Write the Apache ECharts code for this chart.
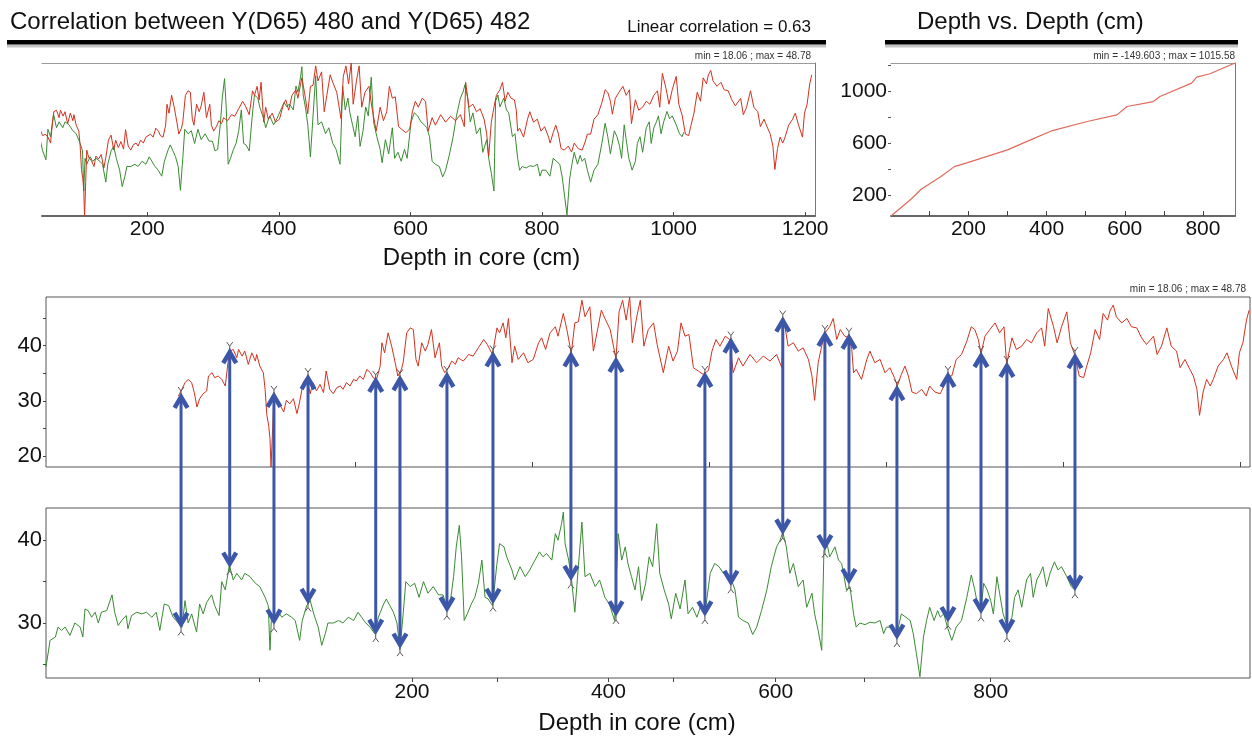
<!DOCTYPE html>
<html>
<head>
<meta charset="utf-8">
<script src="https://cdn.jsdelivr.net/npm/echarts@6/dist/echarts.min.js"></script>
<style>
  html, body { margin: 0; padding: 0; background: #fff; }
  #chart { width: 1252px; height: 736px; }
</style>
</head>
<body>
<div id="chart"></div>
<script>
// Y(D65) 480 (reference core), depth in the common depth frame (cm) and value
const redSeries = [
  [0,30.9],[4,32.1],[7.5,33.3],[11,33.9],[15,33.3],[18,31.5],[21,28.9],[24,30.4],[28,31.3],[32,31.8],
  [34,34.5],[38,35.1],[41,34.2],[45,34.5],[49,33.9],[53,32.7],[56,36.9],[58,39.0],[62,39.3],[66,37.8],
  [68,39.3],[72,38.1],[75,39.0],[79,36.6],[83,38.7],[87,37.2],[88.5,38.4],[92,36.3],[96,35.1],[98,32.1],
  [100,27.4],[102,25.6],[103.5,23.2],[104.7,18.06],[106.5,25.0],[108,31.3],[111,29.8],[115,29.2],[119,28.0],[122,30.1],
  [126,29.5],[130,30.4],[134,27.7],[137,29.8],[141,33.3],[145,34.3],[149,31.3],[152,33.3],[156,31.8],[160,33.0],
  [164,31.5],[167,35.4],[171,32.1],[175,31.3],[179,32.4],[183,32.7],[186,32.1],[190,33.3],[194,32.7],[198,33.9],
  [201,33.6],[205,34.5],[209,33.9],[213,35.7],[217,35.1],[220,34.2],[224,33.9],[228,36.3],[230,40.5],[233,38.7],
  [237,42.3],[241,39.9],[245,36.9],[248,34.5],[252,35.7],[254,36.9],[258,42.3],[262,43.2],[265.5,42.9],[268.5,37.5],
  [271,36.3],[275,40.5],[279,39.0],[282,40.2],[286,42.9],[290,37.8],[295,40.5],[297.5,36.3],[301,35.1],[305,36.0],
  [309,37.2],[313,36.6],[316,37.8],[322,37.2],[328,38.4],[333,38.1],[339,39.6],[345,41.1],[349,40.2],[355,38.4],
  [360,43.2],[363,42.3],[367,44.1],[370,41.4],[373,44.9],[377,36.9],[380,39.9],[384,37.5],[390,38.7],[395,36.9],
  [401,37.5],[407,40.5],[410.5,41.4],[415,39.3],[420,42.3],[426,43.4],[429,41.7],[435,45.8],[439,42.9],[444,38.6],
  [448,44.1],[452,44.3],[456,48.2],[459.5,45.2],[465,47.0],[469,39.0],[473,42.3],[478,46.4],[482,44.9],[488,42.9],
  [494.5,37.6],[498,46.1],[502,48.2],[506,44.6],[510,48.78],[513,40.5],[518,45.2],[522,48.2],[526,39.9],[531,42.9],
  [537,44.1],[541,40.2],[548,35.1],[554,39.9],[559,37.2],[564,39.0],[568,44.1],[572.5,41.7],[577,42.0],[582,36.0],
  [587.5,35.4],[593,34.8],[599,35.5],[603,39.0],[607.5,41.1],[612,39.9],[618,41.7],[623,41.1],[627,35.1],[633,37.8],
  [638,36.3],[646,38.4],[653.5,36.9],[661,38.1],[668.5,37.2],[676,38.4],[682,36.0],[684,44.9],[689,39.9],[695,40.5],
  [700.5,39.0],[706,39.6],[712,37.5],[716,34.5],[719,30.1],[723,36.9],[727,39.9],[730.7,42.3],[736,43.4],[740,44.9],
  [744,41.1],[748,42.9],[753,41.7],[758,41.4],[761,39.3],[763,35.1],[766,35.7],[772,33.9],[778,37.5],[781.5,39.0],
  [787,36.9],[793,37.5],[798.5,35.1],[804,36.0],[810,33.9],[812.4,32.7],[817,34.8],[821,36.3],[825,34.5],[829,31.6],
  [834,31.3],[840,32.1],[845,30.9],[849,32.7],[855,31.6],[861,31.3],[865,32.7],[869,34.5],[874,34.5],[879,37.5],
  [885,38.4],[891,40.8],[896,43.4],[900,42.9],[904,41.1],[907,38.5],[911.5,41.7],[917,42.9],[923,44.1],[928,42.3],
  [933,43.4],[936,36.6],[942,41.4],[947,39.3],[953,39.9],[958.5,41.1],[964,40.5],[970,42.3],[975.5,43.2],[979,39.9],
  [983,46.7],[989,43.4],[993,40.5],[998,43.4],[1004,46.1],[1008,40.5],[1013,38.3],[1018,34.5],[1023,34.2],[1026,36.0],
  [1031,38.7],[1036,42.9],[1041,41.1],[1045,45.8],[1050,44.6],[1053,46.4],[1056.5,47.3],[1060,45.2],[1066,44.1],[1072,44.9],
  [1077,43.4],[1083,43.2],[1088.5,41.4],[1094,40.2],[1102,41.7],[1106,38.4],[1111,39.9],[1117,43.2],[1122,39.9],[1128,39.0],
  [1132,36.0],[1137.5,37.5],[1143,35.7],[1147,34.5],[1151,32.1],[1154,27.4],[1158,31.6],[1162,33.9],[1166,32.7],[1169.5,33.9],
  [1175,36.3],[1181,37.5],[1185,38.7],[1190,36.3],[1196,33.9],[1199,38.7],[1203,40.5],[1207,44.6],[1210,46.4]
];

// Y(D65) 482 (correlated core), placed in the same depth frame
const greenSeries = [
  [-149.603,24.7],[-147,26.5],[-145,27.9],[-139,28.3],[-136,29.5],[-132,29.1],[-128,29.5],[-122.5,28.5],[-117,30.0],[-111,29.5],
  [-108,28.3],[-105.5,31.7],[-102,31.5],[-98,30.7],[-94,31.3],[-90.5,30.0],[-87,31.3],[-81,31.5],[-75,33.4],[-72,31.3],
  [-68,29.7],[-64,30.3],[-59,30.9],[-57,29.3],[-53,30.9],[-47,31.3],[-41.5,31.1],[-36,31.3],[-30,30.7],[-25,31.3],
  [-21,29.1],[-16,32.3],[-11,32.1],[-6,30.7],[0,30.0],[4,29.5],[7.5,32.7],[11,30.0],[15,31.1],[20.6,28.9],
  [24,32.3],[28,31.1],[32,32.5],[37.6,33.4],[41,32.1],[46,30.9],[49,35.0],[53,34.0],[57.6,37.0],[62,35.2],
  [66,36.0],[71.5,35.2],[75,36.0],[81,35.6],[87,34.8],[92,34.4],[98,33.1],[101.6,32.1],[103.5,26.7],[105.4,31.1],
  [108,30.3],[113,31.3],[117,30.7],[122,31.1],[128,30.7],[132,30.3],[137,27.9],[140,30.3],[145,32.1],[149,32.7],
  [153,31.1],[158,29.5],[162,27.3],[166,28.7],[169,30.0],[175,30.0],[181,30.3],[186,30.0],[192,30.7],[198,30.3],
  [203,31.3],[207,30.7],[211,30.1],[216.5,29.5],[222,28.7],[226,30.7],[232,32.3],[235,32.9],[239,32.1],[243,31.3],
  [247,30.0],[250.4,26.8],[254,31.1],[257,35.0],[262,34.4],[267,34.8],[272,33.1],[277,35.0],[282,33.6],[288,34.4],
  [294,33.4],[299,33.4],[303,32.1],[307,32.3],[311,35.6],[314,39.2],[317.5,41.8],[320,38.0],[323,30.3],[326.5,31.1],
  [331,32.3],[335,33.1],[339,34.8],[343,37.6],[346.5,33.1],[350,32.9],[355,32.1],[360,37.2],[363,39.6],[368,39.2],
  [371,38.0],[377,36.4],[380,35.2],[386,36.8],[392,35.6],[397,36.4],[403,37.6],[408,38.6],[412,38.0],[416,38.4],
  [422,37.6],[426,40.8],[429,40.0],[433,42.0],[435,43.4],[437,39.6],[441,37.6],[444,35.6],[448,31.3],[452,36.8],
  [456,42.2],[459.5,35.6],[465,36.0],[471,34.4],[476,35.2],[482,33.1],[487,32.3],[493,30.3],[497,40.8],[501,37.6],
  [505,39.2],[508,37.2],[512,35.6],[516,34.0],[520,36.8],[523.5,32.7],[528,34.8],[532,38.0],[536,36.8],[540.5,42.0],
  [544,36.0],[549,34.0],[554,32.3],[557,30.5],[562,33.6],[567,31.7],[572.5,35.2],[576,31.1],[581,31.9],[586,30.7],
  [591,32.3],[595,31.1],[601,36.0],[606,37.2],[611,36.8],[616,36.0],[621,35.6],[625,35.2],[629,34.0],[633,30.7],
  [638,30.3],[644,30.0],[649,28.6],[653.5,29.5],[659,31.5],[665,34.0],[670,36.8],[676,39.2],[680,40.0],[683,41.0],
  [687,39.2],[691,36.0],[695,37.2],[700.5,34.4],[706,35.2],[710,31.9],[716,33.6],[719,31.1],[723,29.1],[727,26.7],
  [729.5,38.8],[733,39.6],[736,38.0],[742,39.2],[746,37.6],[749.5,37.2],[755,34.0],[759,34.4],[763,31.1],[766,29.5],
  [770,30.0],[776,29.8],[781.5,30.1],[787,30.0],[793,30.3],[797,28.7],[800,29.5],[806,29.5],[812,28.7],[817,31.1],
  [822,30.7],[827,30.3],[830.5,28.7],[834,26.3],[838,23.5],[842,28.3],[845.5,30.3],[849,31.9],[854,30.3],[858,31.5],
  [861,30.7],[865,31.1],[869,29.5],[874,27.9],[879,29.5],[885,30.3],[891,33.1],[896,35.8],[900,34.0],[904,31.7],
  [907,31.5],[910,34.8],[914,34.0],[918,32.7],[921,31.1],[925,35.6],[928,33.6],[932,31.1],[937,29.5],[942,30.7],
  [945,33.1],[949,34.0],[953,31.9],[958.5,35.2],[963,36.0],[966,33.1],[970,35.2],[974,36.0],[977,36.8],[981,34.4],
  [985,36.0],[990,37.4],[994,36.4],[998,36.8],[1004,35.6],[1009,34.4],[1013,34.0],[1015.58,34.6]
];

// Tie points: depth in frame, value on 480, value on 482
const tieDepth = [3, 58, 108, 146.5, 223, 250.4, 303.5, 355.5, 443.6, 494.5, 595, 624.4, 683, 730.6, 757.8, 812, 869.7, 907, 936.3, 1013.2];
const tieRed   = [30.9, 39.0, 31.1, 34.3, 33.8, 34.1, 34.7, 38.4, 38.4, 37.4, 34.7, 40.9, 44.7, 42.1, 41.6, 32.3, 34.7, 38.3, 36.5, 38.1];
const tieGreen = [29.7, 37.0, 30.1, 32.6, 28.9, 27.2, 31.6, 32.6, 35.4, 31.1, 31.1, 34.8, 41.0, 39.1, 35.0, 28.3, 30.4, 31.4, 28.9, 34.2];

// Depth vs. depth (482 depth, frame depth)
const depthMap = [
  [2,44],[53,172],[79,249],[130,346],[164,422],[198,453],[300,550],[359,627],[415,698],[504,767],
  [580,818],[606,882],[673,920],[690,959],[771,1061],[784,1107],[818,1133],[882,1215]
];

// Value ranges and statistics
const redMin = 18.06, redMax = 48.78;
const greenMin = 23.35, greenMax = 43.9;
const frameMin = -149.603, frameMax = 1015.58;
const correlation = 0.63;

// Tick values and labels
const topTicks = [200, 400, 600, 800, 1000, 1200];
const frameTicks = [200, 400, 600, 800, 1000, 1200];
const mapXTicks = [100, 200, 300, 400, 500, 600, 700, 800];
const mapXLabels = [200, 400, 600, 800];
const mapYTicks = [200, 400, 600, 800, 1000, 1200];
const mapYLabels = [200, 600, 1000];
const redYTicks = [20, 25, 30, 35, 40, 45];
const redYLabels = [20, 30, 40];
const greenYTicks = [25, 30, 35, 40];
const greenYLabels = [30, 40];
// 482 depth labels and their positions in the frame
const coreTickPos = [264, 486, 675, 918];
const coreTickText = ['200', '400', '600', '800'];
const coreMinorPos = [91, 360, 559, 775];

const FONT = '"Liberation Sans", Arial, Helvetica, sans-serif';
const RED = '#d2321f';
const GREEN = '#3a8a32';
const BLUE = '#3c56a8';

const chart = echarts.init(document.getElementById('chart'), null, { renderer: 'canvas' });

const labelStyle = (size) => ({ fontSize: size, color: '#111', fontFamily: FONT });
const noSplit = { show: false };

function tieArrows(params, api) {
  const x = api.value(0);
  const p1 = api.coord([x, api.value(1)]);
  let p2 = null;
  try { p2 = chart.convertToPixel({ gridIndex: 3 }, [x, api.value(2)]); } catch (e) { p2 = null; }
  if (!p1 || !p2) return null;
  const cx = p1[0];
  const yTop = p1[1] + 1;
  const yBot = p2[1] - 1.5;
  const head = 6.5, headH = 11;
  const stroke = { stroke: BLUE, fill: null, lineWidth: 3 };
  const headStroke = { stroke: BLUE, fill: null, lineWidth: 4.5, lineJoin: 'miter' };
  const mark = { stroke: '#555', fill: null, lineWidth: 1 };
  const ry = p1[1], gy = p2[1];
  return {
    type: 'group',
    children: [
      { type: 'line', shape: { x1: cx, y1: yTop + 2, x2: cx, y2: yBot - 2 }, style: stroke },
      { type: 'polyline', shape: { points: [[cx - head, yTop + headH], [cx, yTop], [cx + head, yTop + headH]] }, style: headStroke },
      { type: 'polyline', shape: { points: [[cx - head, yBot - headH], [cx, yBot], [cx + head, yBot - headH]] }, style: headStroke },
      { type: 'polyline', shape: { points: [[cx, ry - 1], [cx, ry - 5]] }, style: mark },
      { type: 'polyline', shape: { points: [[cx - 3, ry - 9], [cx, ry - 5], [cx + 3, ry - 9]] }, style: mark },
      { type: 'polyline', shape: { points: [[cx, gy + 2], [cx, gy + 6]] }, style: mark },
      { type: 'polyline', shape: { points: [[cx - 3, gy + 10], [cx, gy + 6], [cx + 3, gy + 10]] }, style: mark }
    ]
  };
}

const fmt = (v) => String(v);
const statText = (a, b) => 'min = ' + a + ' ; max = ' + b;

const option = {
  animation: false,
  backgroundColor: '#fff',
  grid: [
    { left: 42, top: 63, width: 773, height: 153, containLabel: false, outerBoundsMode: 'none' },
    { left: 891, top: 63, width: 344, height: 153, containLabel: false, outerBoundsMode: 'none' },
    { left: 46, top: 297, width: 1204, height: 170, containLabel: false, outerBoundsMode: 'none',
      show: true, borderColor: '#555', borderWidth: 1, backgroundColor: 'transparent' },
    { left: 46, top: 508, width: 1204, height: 170, containLabel: false, outerBoundsMode: 'none',
      show: true, borderColor: '#555', borderWidth: 1, backgroundColor: 'transparent' }
  ],
  xAxis: [
    { // 0: correlation panel, bottom
      gridIndex: 0, type: 'value', min: 40, max: 1215, position: 'bottom',
      axisLine: { show: true, onZero: false, lineStyle: { color: '#666', width: 2 } },
      axisTick: { show: true, inside: true, length: 4, customValues: topTicks, lineStyle: { color: '#444' } },
      axisLabel: Object.assign({ customValues: topTicks, margin: 3, formatter: fmt }, labelStyle(21)),
      splitLine: noSplit,
      name: 'Depth in core (cm)', nameLocation: 'middle', nameGap: 30,
      nameTextStyle: Object.assign({ padding: [0, 0, 0, 106] }, labelStyle(24))
    },
    { // 1: correlation panel, top border
      gridIndex: 0, type: 'value', min: 40, max: 1215, position: 'top',
      axisLine: { show: true, onZero: false, lineStyle: { color: '#9a9a9a', width: 1 } },
      axisTick: { show: false }, axisLabel: { show: false }, splitLine: noSplit
    },
    { // 2: depth vs depth, bottom
      gridIndex: 1, type: 'value', min: 2, max: 882, position: 'bottom',
      axisLine: { show: true, onZero: false, lineStyle: { color: '#666', width: 2 } },
      axisTick: { show: true, inside: true, length: 5, customValues: mapXTicks, lineStyle: { color: '#444' } },
      axisLabel: Object.assign({ customValues: mapXLabels, margin: 3, formatter: fmt }, labelStyle(21)),
      splitLine: noSplit
    },
    { // 3: 480 panel
      gridIndex: 2, type: 'value', min: frameMin, max: 1211,
      axisLine: { show: false, onZero: false },
      axisTick: { show: true, inside: true, length: 5, customValues: frameTicks, lineStyle: { color: '#444' } },
      axisLabel: { show: false }, splitLine: noSplit
    },
    { // 4: 482 panel
      gridIndex: 3, type: 'value', min: frameMin, max: 1211,
      axisLine: { show: false, onZero: false },
      axisTick: { show: true, inside: false, length: 4, customValues: coreTickPos.concat(coreMinorPos), lineStyle: { color: '#444' } },
      axisLabel: Object.assign({
        customValues: coreTickPos, margin: 4,
        formatter: (v) => { const i = coreTickPos.indexOf(v); return i >= 0 ? coreTickText[i] : ''; }
      }, labelStyle(21)),
      splitLine: noSplit,
      name: 'Depth in core (cm)', nameLocation: 'middle', nameGap: 33,
      nameTextStyle: Object.assign({ padding: [0, 22, 0, 0] }, labelStyle(24))
    },
    { // 5: depth vs depth, top border
      gridIndex: 1, type: 'value', min: 2, max: 882, position: 'top',
      axisLine: { show: true, onZero: false, lineStyle: { color: '#9a9a9a', width: 1 } },
      axisTick: { show: false }, axisLabel: { show: false }, splitLine: noSplit
    }
  ],
  yAxis: [
    { // 0: correlation panel, 480 scale
      gridIndex: 0, type: 'value', min: redMin, max: redMax,
      axisLine: { show: false, onZero: false }, axisTick: { show: false }, axisLabel: { show: false }, splitLine: noSplit
    },
    { // 1: correlation panel, 482 scale (right border)
      gridIndex: 0, type: 'value', min: greenMin, max: greenMax, position: 'right',
      axisLine: { show: true, onZero: false, lineStyle: { color: '#777', width: 1 } },
      axisTick: { show: false }, axisLabel: { show: false }, splitLine: noSplit
    },
    { // 2: depth vs depth, left
      gridIndex: 1, type: 'value', min: 44, max: 1215,
      axisLine: { show: false, onZero: false },
      axisTick: { show: true, inside: false, length: 3, customValues: mapYTicks, lineStyle: { color: '#555' } },
      axisLabel: Object.assign({ customValues: mapYLabels, margin: 4, formatter: fmt }, labelStyle(21)),
      splitLine: noSplit
    },
    { // 3: 480 panel
      gridIndex: 2, type: 'value', min: redMin, max: redMax,
      axisLine: { show: false, onZero: false },
      axisTick: { show: true, inside: false, length: 3, customValues: redYTicks, lineStyle: { color: '#444' } },
      axisLabel: Object.assign({ customValues: redYLabels, margin: 4, formatter: fmt }, labelStyle(22)),
      splitLine: noSplit
    },
    { // 4: 482 panel
      gridIndex: 3, type: 'value', min: greenMin, max: greenMax,
      axisLine: { show: false, onZero: false },
      axisTick: { show: true, inside: false, length: 3, customValues: greenYTicks, lineStyle: { color: '#444' } },
      axisLabel: Object.assign({ customValues: greenYLabels, margin: 4, formatter: fmt }, labelStyle(22)),
      splitLine: noSplit
    },
    { // 5: depth vs depth, right border
      gridIndex: 1, type: 'value', min: 44, max: 1215, position: 'right',
      axisLine: { show: true, onZero: false, lineStyle: { color: '#777', width: 1 } },
      axisTick: { show: false }, axisLabel: { show: false }, splitLine: noSplit
    }
  ],
  series: [
    { name: 'Y(D65) 480', type: 'line', xAxisIndex: 0, yAxisIndex: 0, data: redSeries,
      showSymbol: false, symbol: 'none', lineStyle: { color: RED, width: 1 }, z: 3 },
    { name: 'Y(D65) 482', type: 'line', xAxisIndex: 0, yAxisIndex: 1, data: greenSeries,
      showSymbol: false, symbol: 'none', lineStyle: { color: GREEN, width: 1 }, z: 2 },
    { name: 'Depth vs. Depth', type: 'line', xAxisIndex: 2, yAxisIndex: 2, data: depthMap,
      showSymbol: false, symbol: 'none', lineStyle: { color: '#e06a5a', width: 1.2 } },
    { name: 'Y(D65) 480 ', type: 'line', xAxisIndex: 3, yAxisIndex: 3, data: redSeries,
      showSymbol: false, symbol: 'none', lineStyle: { color: RED, width: 1 } },
    { name: 'Y(D65) 482 ', type: 'line', xAxisIndex: 4, yAxisIndex: 4, data: greenSeries,
      showSymbol: false, symbol: 'none', lineStyle: { color: GREEN, width: 1 } },
    { name: 'Tie points', type: 'custom', xAxisIndex: 3, yAxisIndex: 3, z: 10, clip: false,
      data: tieDepth.map((d, i) => [d, tieRed[i], tieGreen[i]]),
      renderItem: tieArrows }
  ],
  graphic: [
    { type: 'text', x: 10, y: 22, silent: true,
      style: { text: 'Correlation between Y(D65) 480 and Y(D65) 482', font: '24px ' + FONT, fill: '#111',
        textVerticalAlign: 'middle', verticalAlign: 'middle' } },
    { type: 'text', x: 811, y: 27, silent: true,
      style: { text: 'Linear correlation = ' + correlation.toFixed(2), font: '17px ' + FONT, fill: '#111',
        textAlign: 'right', align: 'right', textVerticalAlign: 'middle', verticalAlign: 'middle' } },
    { type: 'text', x: 917, y: 22, silent: true,
      style: { text: 'Depth vs. Depth (cm)', font: '24px ' + FONT, fill: '#111',
        textVerticalAlign: 'middle', verticalAlign: 'middle' } },
    { type: 'rect', silent: true, shape: { x: 7, y: 44.5, width: 819, height: 3 }, style: { fill: '#c4c4c4' } },
    { type: 'rect', silent: true, shape: { x: 7, y: 40, width: 819, height: 4.5 }, style: { fill: '#000' } },
    { type: 'rect', silent: true, shape: { x: 885, y: 44.5, width: 353, height: 3 }, style: { fill: '#c4c4c4' } },
    { type: 'rect', silent: true, shape: { x: 885, y: 40, width: 353, height: 4.5 }, style: { fill: '#000' } },
    { type: 'text', x: 811, y: 56, silent: true,
      style: { text: statText(redMin, redMax), font: '10px ' + FONT, fill: '#333',
        textAlign: 'right', align: 'right', textVerticalAlign: 'middle', verticalAlign: 'middle' } },
    { type: 'text', x: 1235, y: 56, silent: true,
      style: { text: statText(frameMin, frameMax), font: '10px ' + FONT, fill: '#333',
        textAlign: 'right', align: 'right', textVerticalAlign: 'middle', verticalAlign: 'middle' } },
    { type: 'text', x: 1246, y: 289, silent: true,
      style: { text: statText(redMin, redMax), font: '10px ' + FONT, fill: '#333',
        textAlign: 'right', align: 'right', textVerticalAlign: 'middle', verticalAlign: 'middle' } }
  ]
};

chart.setOption(option);
</script>
</body>
</html>
